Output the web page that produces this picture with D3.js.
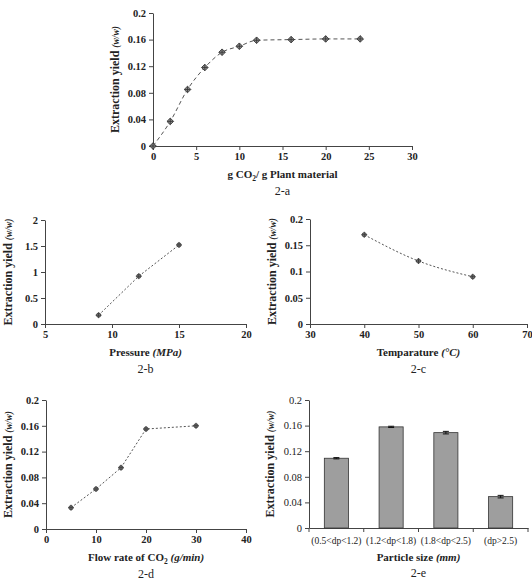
<!DOCTYPE html>
<html>
<head>
<meta charset="utf-8">
<script src="https://cdn.jsdelivr.net/npm/d3@7"></script>
<style>
  body { margin: 0; background: #fff; }
  svg { font-family: "Liberation Serif", "DejaVu Serif", serif; }
</style>
</head>
<body>
<svg id="chart" width="532" height="580"></svg>
<script>
// 2-a: yield vs solvent to feed ratio
const ratioX = [0, 2, 4, 6, 8, 10, 12, 16, 20, 24];
const ratioY = [0, 0.037, 0.085, 0.118, 0.141, 0.150, 0.159, 0.160, 0.161, 0.161];
// 2-b: pressure
const pressX = [9, 12, 15];
const pressY = [0.17, 0.92, 1.52];
// 2-c: temperature
const tempX = [40, 50, 60];
const tempY = [0.17, 0.12, 0.09];
// 2-d: flow rate
const flowX = [5, 10, 15, 20, 30];
const flowY = [0.033, 0.062, 0.095, 0.155, 0.16];
// 2-e: particle size
const sizeCats = ["(0.5<dp<1.2)", "(1.2<dp<1.8)", "(1.8<dp<2.5)", "(dp>2.5)"];
const sizeY = [0.109, 0.158, 0.149, 0.049];
const sizeErr = [0.001, 0.001, 0.002, 0.002];

const svg = d3.select("#chart");

function yLabel(g, x, yc) {
  const t = g.append("text")
    .attr("transform", `translate(${x},${yc}) rotate(-90)`)
    .attr("text-anchor", "middle")
    .attr("font-size", 12).attr("font-weight", "bold")
    .attr("fill", "#222")
    .attr("dy", "0.35em");
  t.append("tspan").text("Extraction yield ");
  t.append("tspan").attr("font-style", "italic").attr("font-size", 9.5).text("(w/w)");
}

function styleAxis(a, bold) {
  a.select(".domain").attr("stroke", "#444");
  a.selectAll(".tick line").attr("stroke", "#444");
  a.selectAll(".tick text")
    .attr("font-family", "Liberation Serif, serif")
    .attr("font-size", 10.5)
    .attr("font-weight", bold ? "bold" : "normal")
    .attr("fill", "#222");
}

function linePanel(o) {
  const g = svg.append("g");
  const x = d3.scaleLinear().domain(o.xd).range([o.l, o.r]);
  const y = d3.scaleLinear().domain(o.yd).range([o.b, o.t]);
  const xa = g.append("g").attr("transform", `translate(0,${o.b})`)
    .call(d3.axisBottom(x).tickValues(o.xt).tickSize(4).tickSizeOuter(0).tickPadding(3));
  styleAxis(xa, true);
  const ya = g.append("g").attr("transform", `translate(${o.l},0)`)
    .call(d3.axisLeft(y).tickValues(o.yt).tickFormat(d => String(+d.toFixed(3))).tickSize(4).tickSizeOuter(0).tickPadding(3));
  styleAxis(ya, true);

  const pts = o.xs.map((v, i) => [v, o.ys[i]]);
  g.append("path").datum(pts)
    .attr("fill", "none").attr("stroke", "#555").attr("stroke-width", 1)
    .attr("stroke-dasharray", o.dash)
    .attr("d", d3.line().x(d => x(d[0])).y(d => y(d[1])).curve(o.curve));

  const sym = d3.symbol().type(o.symbol).size(o.symSize);
  g.selectAll(".pt").data(pts).join("path")
    .attr("transform", d => `translate(${x(d[0])},${y(d[1])}) rotate(${o.rot})`)
    .attr("d", sym)
    .attr("fill", "#888").attr("stroke", "#333").attr("stroke-width", 0.8);
  g.selectAll(".eb").data(pts).join("path")
    .attr("d", d => {
      const cx = x(d[0]), cy = y(d[1]);
      return `M${cx - 3},${cy}H${cx + 3}M${cx},${cy - 3}V${cy + 3}`;
    })
    .attr("stroke", "#333").attr("stroke-width", 0.8);

  yLabel(g, o.yl, (o.t + o.b) / 2);
  const tt = g.append("text").attr("x", (o.l + o.r) / 2).attr("y", o.b + 32)
    .attr("text-anchor", "middle").attr("font-size", 11).attr("font-weight", "bold").attr("fill", "#222");
  o.title(tt);
  g.append("text").attr("x", (o.l + o.r) / 2).attr("y", o.b + 49)
    .attr("text-anchor", "middle").attr("font-size", 12).attr("fill", "#222").text(o.cap);
}

linePanel({
  l: 153, r: 412, t: 13, b: 146, xd: [0, 30], yd: [0, 0.2],
  xt: [0, 5, 10, 15, 20, 25, 30], yt: [0, 0.04, 0.08, 0.12, 0.16, 0.2],
  xs: ratioX, ys: ratioY, dash: "4,3", curve: d3.curveMonotoneX,
  symbol: d3.symbolSquare, symSize: 22, rot: 45, yl: 115, cap: "2-a",
  title: t => {
    t.append("tspan").text("g CO");
    t.append("tspan").attr("font-size", 7.5).attr("dy", 3).text("2");
    t.append("tspan").attr("dy", -3).text("/ g Plant material");
  }
});

linePanel({
  l: 45, r: 246, t: 220, b: 324, xd: [5, 20], yd: [0, 2],
  xt: [5, 10, 15, 20], yt: [0, 0.5, 1, 1.5, 2],
  xs: pressX, ys: pressY, dash: "2,2", curve: d3.curveLinear,
  symbol: d3.symbolCircle, symSize: 14, rot: 0, yl: 8, cap: "2-b",
  title: t => {
    t.append("tspan").text("Pressure ");
    t.append("tspan").attr("font-style", "italic").text("(MPa)");
  }
});

linePanel({
  l: 310, r: 527, t: 219, b: 324, xd: [30, 70], yd: [0, 0.2],
  xt: [30, 40, 50, 60, 70], yt: [0, 0.05, 0.1, 0.15, 0.2],
  xs: tempX, ys: tempY, dash: "2,2", curve: d3.curveMonotoneX,
  symbol: d3.symbolCircle, symSize: 14, rot: 0, yl: 272, cap: "2-c",
  title: t => {
    t.append("tspan").text("Temparature ");
    t.append("tspan").attr("font-style", "italic").text("(°C)");
  }
});

linePanel({
  l: 46, r: 246, t: 400, b: 529, xd: [0, 40], yd: [0, 0.2],
  xt: [0, 10, 20, 30, 40], yt: [0, 0.04, 0.08, 0.12, 0.16, 0.2],
  xs: flowX, ys: flowY, dash: "2,2", curve: d3.curveLinear,
  symbol: d3.symbolCircle, symSize: 14, rot: 0, yl: 8, cap: "2-d",
  title: t => {
    t.append("tspan").text("Flow rate of CO");
    t.append("tspan").attr("font-size", 7.5).attr("dy", 3).text("2");
    t.append("tspan").attr("dy", -3).text(" ");
    t.append("tspan").attr("font-style", "italic").text("(g/min)");
  }
});

// 2-e bar chart
(function () {
  const l = 309, r = 528, t = 400, b = 528;
  const g = svg.append("g");
  const x = d3.scaleBand().domain(sizeCats).range([l, r]).paddingInner(0.56).paddingOuter(0.28);
  const y = d3.scaleLinear().domain([0, 0.2]).range([b, t]);
  const xa = g.append("g").attr("transform", `translate(0,${b})`)
    .call(d3.axisBottom(x).tickSize(0).tickPadding(9));
  styleAxis(xa, false);
  xa.selectAll(".tick text").attr("font-size", 9.5);
  // ticks between categories
  g.selectAll(".sep").data(d3.range(sizeCats.length + 1)).join("line")
    .attr("x1", i => l + i * (r - l) / sizeCats.length)
    .attr("x2", i => l + i * (r - l) / sizeCats.length)
    .attr("y1", b).attr("y2", b + 4).attr("stroke", "#444");
  const ya = g.append("g").attr("transform", `translate(${l},0)`)
    .call(d3.axisLeft(y).tickValues([0, 0.04, 0.08, 0.12, 0.16, 0.2]).tickFormat(d => String(+d.toFixed(2))).tickSize(4).tickSizeOuter(0).tickPadding(3));
  styleAxis(ya, false);

  g.selectAll(".bar").data(sizeCats).join("rect")
    .attr("x", d => x(d)).attr("width", x.bandwidth())
    .attr("y", (d, i) => y(sizeY[i])).attr("height", (d, i) => b - y(sizeY[i]))
    .attr("fill", "#9e9e9e").attr("stroke", "#333").attr("stroke-width", 0.8);
  g.selectAll(".err").data(sizeCats).join("path")
    .attr("d", (d, i) => {
      const cx = x(d) + x.bandwidth() / 2;
      const y1 = y(sizeY[i] + sizeErr[i]), y2 = y(sizeY[i] - sizeErr[i]);
      return `M${cx - 3},${y1}H${cx + 3}M${cx},${y1}V${y2}M${cx - 3},${y2}H${cx + 3}`;
    })
    .attr("stroke", "#111").attr("stroke-width", 1).attr("fill", "none");

  yLabel(g, 270, (t + b) / 2);
  const tt = g.append("text").attr("x", (l + r) / 2).attr("y", b + 33)
    .attr("text-anchor", "middle").attr("font-size", 11).attr("font-weight", "bold").attr("fill", "#222");
  tt.append("tspan").text("Particle size ");
  tt.append("tspan").attr("font-style", "italic").text("(mm)");
  g.append("text").attr("x", (l + r) / 2).attr("y", b + 49)
    .attr("text-anchor", "middle").attr("font-size", 12).attr("fill", "#222").text("2-e");
})();
</script>
</body>
</html>
